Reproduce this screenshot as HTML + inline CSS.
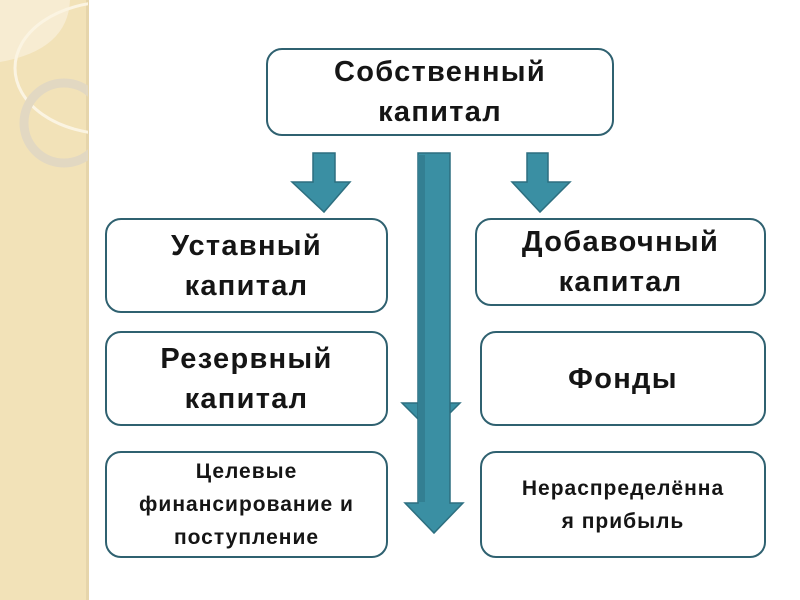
<!DOCTYPE html>
<html><head><meta charset="utf-8"><style>
body{margin:0;width:800px;height:600px;position:relative;background:#fff;overflow:hidden;font-family:"Liberation Sans","DejaVu Sans",sans-serif}
.b{position:absolute;box-sizing:border-box;border:2px solid #2f6170;border-radius:16px;background:#fff;display:flex;align-items:center;justify-content:center;text-align:center;font-weight:bold;font-size:29px;line-height:40px;color:#151515;letter-spacing:1.3px}
.s{font-size:21px;line-height:33px;letter-spacing:1px}
</style></head><body>
<svg width="800" height="600" style="position:absolute;left:0;top:0">
<defs><clipPath id="c"><rect x="0" y="0" width="88" height="600"/></clipPath></defs>
<rect x="0" y="0" width="88" height="600" fill="#f2e2b8"/>
<rect x="86" y="0" width="3" height="600" fill="#e6d5ab"/>
<g clip-path="url(#c)">
<path d="M0 0 H70 Q68 50 0 62Z" fill="#f7ecd2"/>
<ellipse cx="110" cy="68" rx="95" ry="66" fill="none" stroke="#fbf4e2" stroke-width="3"/>
<circle cx="64" cy="123" r="40" fill="none" stroke="#e2d8c2" stroke-width="9"/>
</g>
<g fill="#3a8fa3" stroke="#2d6f80" stroke-width="1.5">
<polygon points="313,153 335,153 335,182 350,182 324,212 292,182 313,182"/>
<polygon points="527,153 548,153 548,182 570,182 540,212 512,182 527,182"/>
<polygon points="402,403 460,403 431,432"/>
<polygon points="418,153 450,153 450,503 463,503 434,533 405,503 418,503"/>
</g>
<rect x="418" y="155" width="7" height="347" fill="#337f92"/>
</svg>
<div class="b" style="left:266px;top:48px;width:348px;height:88px">Собственный<br>капитал</div>
<div class="b" style="left:105px;top:218px;width:283px;height:95px">Уставный<br>капитал</div>
<div class="b" style="left:475px;top:218px;width:291px;height:88px">Добавочный<br>капитал</div>
<div class="b" style="left:105px;top:331px;width:283px;height:95px">Резервный<br>капитал</div>
<div class="b" style="left:480px;top:331px;width:286px;height:95px">Фонды</div>
<div class="b s" style="left:105px;top:451px;width:283px;height:107px">Целевые<br>финансирование и<br>поступление</div>
<div class="b s" style="left:480px;top:451px;width:286px;height:107px">Нераспределённа<br>я прибыль</div>
</body></html>
